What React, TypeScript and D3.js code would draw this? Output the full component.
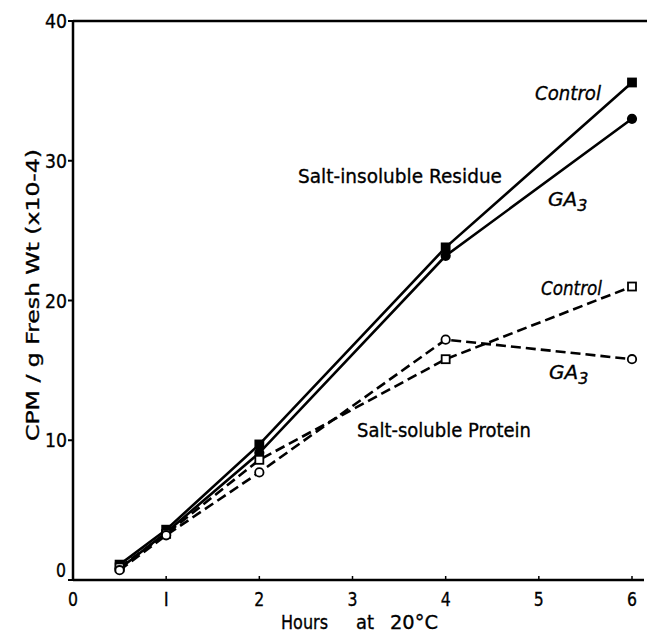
import React from "react";
import * as d3 from "d3";

const hours = [0.5, 1, 2, 4, 6];
const insolubleControl = [1.1, 3.6, 9.7, 23.8, 35.6];
const insolubleGA3 = [0.8, 3.4, 9.1, 23.2, 33.0];
const solubleControl = [0.9, 3.3, 8.6, 15.8, 21.0];
const solubleGA3 = [0.7, 3.2, 7.7, 17.2, 15.8];
const xTicks = [0, 1, 2, 3, 4, 5, 6];
const yTicks = [0, 10, 20, 30, 40];

const W = 647;
const H = 633;
const FONT = "'DejaVu Sans', sans-serif";

type LabelProps = {
  x: number;
  y: number;
  w: number;
  size?: number;
  anchor?: "start" | "middle" | "end";
  italic?: boolean;
  children: React.ReactNode;
  transform?: string;
};

// Narrow lettering: glyphs are squeezed to a fixed run length
function Label({ x, y, w, size = 19, anchor = "start", italic, children, transform }: LabelProps) {
  return (
    <text
      x={x}
      y={y}
      fontSize={size}
      textAnchor={anchor}
      fontStyle={italic ? "italic" : undefined}
      textLength={w}
      lengthAdjust="spacingAndGlyphs"
      transform={transform}
      stroke="#000"
      strokeWidth={0.35}
    >
      {children}
    </text>
  );
}

export default function App() {
  const x = d3.scaleLinear().domain([0, 6]).range([73, 632]);
  const y = d3.scaleLinear().domain([0, 40]).range([580, 21]);
  const line = d3
    .line<[number, number]>()
    .x((d) => x(d[0]))
    .y((d) => y(d[1]));
  const pts = (vals: number[]) => hours.map((h, i) => [h, vals[i]] as [number, number]);

  const series = [
    { vals: insolubleControl, dash: undefined, marker: "square", fill: "#000" },
    { vals: insolubleGA3, dash: undefined, marker: "circle", fill: "#000" },
    { vals: solubleControl, dash: "10 5", marker: "square", fill: "#fff" },
    { vals: solubleGA3, dash: "10 5", marker: "circle", fill: "#fff" },
  ];

  return (
    <svg
      width={W}
      height={H}
      style={{ position: "absolute", left: 0, top: 0, background: "#fff" }}
      fontFamily={FONT}
    >
      {/* axes frame */}
      <line x1={x(0)} x2={x(0)} y1={y(40)} y2={y(0)} stroke="#000" strokeWidth={2.5} />
      <line x1={x(0)} x2={644} y1={y(0)} y2={y(0)} stroke="#000" strokeWidth={2.5} />
      <line x1={x(0)} x2={W} y1={y(40)} y2={y(40)} stroke="#000" strokeWidth={2.5} />

      {yTicks.map((t) => (
        <g key={"y" + t}>
          <line x1={x(0) - 5} x2={x(0)} y1={y(t)} y2={y(t)} stroke="#000" strokeWidth={2} />
          <Label
            x={t === 0 ? 66 : 67}
            y={y(t) + (t === 0 ? -3 : 7)}
            w={t === 0 ? 10 : 22}
            size={20}
            anchor="end"
          >
            {t}
          </Label>
        </g>
      ))}
      {xTicks.map((t) => (
        <g key={"x" + t}>
          <line x1={x(t)} x2={x(t)} y1={y(0)} y2={y(0) - 4} stroke="#000" strokeWidth={1.5} />
          <Label x={x(t)} y={606} w={t === 1 ? 5 : 10} size={20} anchor="middle">
            {t === 1 ? "I" : String(t)}
          </Label>
        </g>
      ))}

      <Label x={281} y={629} w={47} size={20}>Hours</Label>
      <Label x={356} y={629} w={18} size={20}>at</Label>
      <Label x={390} y={629} w={48} size={20}>20°C</Label>

      <Label x={0} y={0} w={292} size={18} anchor="middle" transform={`translate(39, 295) rotate(-90)`}>
        CPM / g Fresh Wt (x10-4)
      </Label>

      {series.map((s, i) => (
        <g key={i}>
          <path
            d={line(pts(s.vals)) || ""}
            fill="none"
            stroke="#000"
            strokeWidth={2.6}
            strokeDasharray={s.dash}
          />
          {pts(s.vals).map(([h, v], j) =>
            s.marker === "square" ? (
              <rect
                key={j}
                x={x(h) - 4}
                y={y(v) - 4}
                width={8}
                height={8}
                fill={s.fill}
                stroke="#000"
                strokeWidth={1.8}
              />
            ) : (
              <circle
                key={j}
                cx={x(h)}
                cy={y(v)}
                r={4.2}
                fill={s.fill}
                stroke="#000"
                strokeWidth={1.8}
              />
            )
          )}
        </g>
      ))}

      <Label x={298} y={183} w={204} size={20}>
        Salt-insoluble Residue
      </Label>
      <Label x={357} y={437} w={174} size={20}>
        Salt-soluble Protein
      </Label>

      <Label x={535} y={100} w={66} size={20} italic>
        Control
      </Label>
      <text x={548} y={206} fontSize={20} fontStyle="italic" stroke="#000" strokeWidth={0.35}>
        GA<tspan fontSize={16} dy={5}>3</tspan>
      </text>
      <Label x={541} y={295} w={61} size={20} italic>
        Control
      </Label>
      <text x={549} y={379} fontSize={20} fontStyle="italic" stroke="#000" strokeWidth={0.35}>
        GA<tspan fontSize={16} dy={5}>3</tspan>
      </text>
    </svg>
  );
}
